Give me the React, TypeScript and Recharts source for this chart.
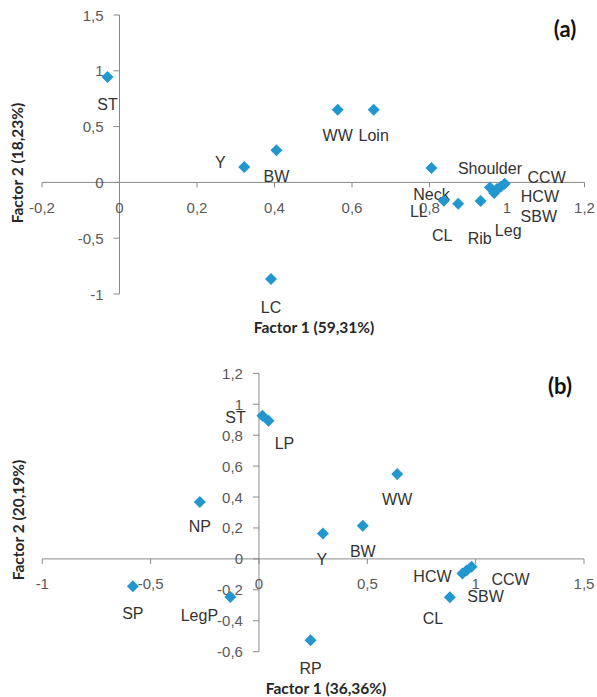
import React from 'react';
import { ScatterChart, Scatter, XAxis, YAxis, ReferenceLine, ReferenceDot } from 'recharts';

// ---------- Chart (a) data ----------
const namesA = ['ST', 'Y', 'BW', 'LC', 'WW', 'Loin', 'Neck', 'LL', 'CL', 'Rib', 'Shoulder', 'Leg', 'HCW', 'SBW', 'CCW'];
const factor1A = [-0.031, 0.322, 0.405, 0.391, 0.563, 0.656, 0.805, 0.837, 0.874, 0.932, 0.956, 0.967, 0.974, 0.984, 0.994];
const factor2A = [0.944, 0.138, 0.287, -0.866, 0.651, 0.651, 0.129, -0.164, -0.191, -0.167, -0.045, -0.095, -0.059, -0.039, -0.012];
const xTicksA = [-0.2, 0, 0.2, 0.4, 0.6, 0.8, 1, 1.2];
const xTickLabelsA = ['-0,2', '0', '0,2', '0,4', '0,6', '0,8', '1', '1,2'];
const yTicksA = [-1, -0.5, 0, 0.5, 1, 1.5];
const yTickLabelsA = ['-1', '-0,5', '0', '0,5', '1', '1,5'];

// ---------- Chart (b) data ----------
const namesB = ['ST', 'LP', 'NP', 'SP', 'LegP', 'Y', 'BW', 'WW', 'RP', 'CL', 'HCW', 'SBW', 'CCW'];
const factor1B = [0.016, 0.044, -0.273, -0.582, -0.132, 0.295, 0.479, 0.638, 0.238, 0.881, 0.939, 0.958, 0.981];
const factor2B = [0.926, 0.894, 0.368, -0.177, -0.246, 0.164, 0.215, 0.549, -0.526, -0.248, -0.095, -0.075, -0.05];
const xTicksB = [-1, -0.5, 0, 0.5, 1, 1.5];
const xTickLabelsB = ['-1', '-0,5', '0', '0,5', '1', '1,5'];
const yTicksB = [-0.6, -0.4, -0.2, 0, 0.2, 0.4, 0.6, 0.8, 1, 1.2];
const yTickLabelsB = ['-0,6', '-0,4', '-0,2', '0', '0,2', '0,4', '0,6', '0,8', '1', '1,2'];

// ---------- label placement (pixel offsets from marker centre) ----------
const labelOffsetA: Record<string, [number, number]> = {
  ST: [0, 27], Y: [-24, -4], BW: [0, 26], LC: [0, 28], WW: [0, 26], Loin: [0, 26],
  Neck: [0, 26], LL: [-25, 11], CL: [-16, 32], Rib: [-1, 37], Shoulder: [0, -19],
  Leg: [14, 37], HCW: [43, 8], SBW: [38, 30], CCW: [42, -6],
};
const labelOffsetB: Record<string, [number, number]> = {
  ST: [-27, 2], LP: [16, 23], NP: [0, 25], SP: [0, 27], LegP: [-31, 19], Y: [-1, 26],
  BW: [0, 26], WW: [0, 26], RP: [0, 28], CL: [-17, 21], HCW: [-30, 3], SBW: [19, 26], CCW: [39, 13],
};

const pointsA = namesA.map((n, i) => ({ name: n, x: factor1A[i], y: factor2A[i] }));
const pointsB = namesB.map((n, i) => ({ name: n, x: factor1B[i], y: factor2B[i] }));

const MARKER = '#2196CF';
const AXIS = '#898989';
const TICK_TEXT = '#595959';
const LABEL_TEXT = '#333333';
const FONT = '"Liberation Sans", Arial, sans-serif';
const TITLE_FONT = 'Lato, "Open Sans", sans-serif';

const makeShape = (offsets: Record<string, [number, number]>) => (props: any) => {
  const { cx, cy, payload } = props;
  if (cx == null || cy == null) return <g />;
  const s = 6;
  const off = offsets[payload.name] || [0, 26];
  return (
    <g>
      <text x={cx + off[0]} y={cy + off[1]} textAnchor="middle" dominantBaseline="central"
        fontFamily={FONT} fontSize={16} fill={LABEL_TEXT}>{payload.name}</text>
      <polygon points={`${cx},${cy - s} ${cx + s},${cy} ${cx},${cy + s} ${cx - s},${cy}`} fill={MARKER} />
    </g>
  );
};

const xTickShape = (label: string) => (props: any) => {
  const { cx, cy } = props;
  return (
    <g>
      <line x1={cx} y1={cy} x2={cx} y2={cy + 5} stroke={AXIS} strokeWidth={1} />
      <text x={cx} y={cy + 25} textAnchor="middle" dominantBaseline="central"
        fontFamily={FONT} fontSize={15} fill={TICK_TEXT}>{label}</text>
    </g>
  );
};

const yTickShape = (label: string) => (props: any) => {
  const { cx, cy } = props;
  return (
    <g>
      <line x1={cx - 6} y1={cy} x2={cx} y2={cy} stroke={AXIS} strokeWidth={1} />
      <text x={cx - 16} y={cy} textAnchor="end" dominantBaseline="central"
        fontFamily={FONT} fontSize={15} fill={TICK_TEXT}>{label}</text>
    </g>
  );
};

type PanelProps = {
  data: { name: string; x: number; y: number }[];
  xDomain: [number, number];
  yDomain: [number, number];
  xTicks: number[];
  xLabels: string[];
  yTicks: number[];
  yLabels: string[];
  offsets: Record<string, [number, number]>;
  height: number;
  margin: { top: number; right: number; bottom: number; left: number };
};

const Panel = (p: PanelProps) => (
  <ScatterChart width={597} height={p.height} margin={p.margin}>
    <XAxis type="number" dataKey="x" domain={p.xDomain} ticks={p.xTicks} hide />
    <YAxis type="number" dataKey="y" domain={p.yDomain} ticks={p.yTicks} hide />
    <ReferenceLine y={0} stroke={AXIS} strokeWidth={1} />
    <ReferenceLine x={0} stroke={AXIS} strokeWidth={1} />
    {p.xTicks.map((t, i) => (
      <ReferenceDot key={'xt' + i} x={t} y={0} r={1} shape={xTickShape(p.xLabels[i])} />
    ))}
    {p.yTicks.map((t, i) => (
      <ReferenceDot key={'yt' + i} x={0} y={t} r={1} shape={yTickShape(p.yLabels[i])} />
    ))}
    <Scatter data={p.data} isAnimationActive={false} shape={makeShape(p.offsets)} />
  </ScatterChart>
);

const abs = (left: number, top: number, extra: React.CSSProperties = {}): React.CSSProperties => ({
  position: 'absolute', left, top, transform: 'translate(-50%, -50%)', whiteSpace: 'nowrap', ...extra,
});

const axisTitle: React.CSSProperties = { fontFamily: TITLE_FONT, fontWeight: 700, fontSize: 15.5, color: '#262626' };
const panelTitle: React.CSSProperties = { fontFamily: TITLE_FONT, fontWeight: 700, fontSize: 22, color: '#111111' };

export default function App() {
  return (
    <div style={{ position: 'absolute', left: 0, top: 0, width: 597, height: 697, background: '#ffffff', overflow: 'hidden' }}>
      <div style={{ position: 'absolute', left: 0, top: 0 }}>
        <Panel data={pointsA} xDomain={[-0.2, 1.2]} yDomain={[-1, 1.5]} xTicks={xTicksA} xLabels={xTickLabelsA}
          yTicks={yTicksA} yLabels={yTickLabelsA} offsets={labelOffsetA} height={340}
          margin={{ top: 15, right: 12.5, bottom: 46, left: 42 }} />
      </div>
      <div style={{ position: 'absolute', left: 0, top: 340 }}>
        <Panel data={pointsB} xDomain={[-1, 1.5]} yDomain={[-0.6, 1.2]} xTicks={xTicksB} xLabels={xTickLabelsB}
          yTicks={yTicksB} yLabels={yTickLabelsB} offsets={labelOffsetB} height={357}
          margin={{ top: 33.3, right: 13, bottom: 45.3, left: 42.3 }} />
      </div>
      <div style={abs(565, 28, panelTitle)}>(a)</div>
      <div style={abs(560, 385, panelTitle)}>(b)</div>
      <div style={abs(314, 327, axisTitle)}>Factor 1 (59,31%)</div>
      <div style={abs(326, 688, axisTitle)}>Factor 1 (36,36%)</div>
      <div style={abs(17, 163, { ...axisTitle, transform: 'translate(-50%, -50%) rotate(-90deg)' })}>Factor 2 (18,23%)</div>
      <div style={abs(18, 520, { ...axisTitle, transform: 'translate(-50%, -50%) rotate(-90deg)' })}>Factor 2 (20,19%)</div>
    </div>
  );
}
